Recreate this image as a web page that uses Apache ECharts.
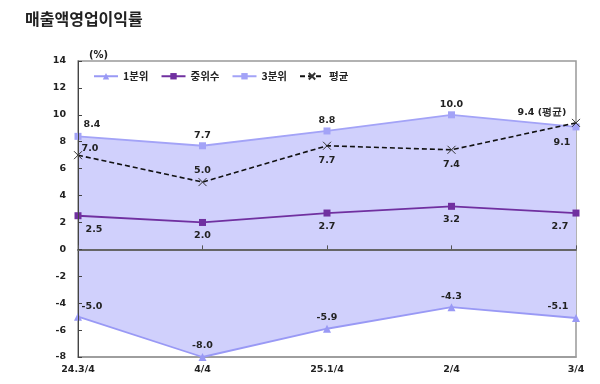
<!DOCTYPE html>
<html><head><meta charset="utf-8">
<script src="https://cdn.jsdelivr.net/npm/echarts@6/dist/echarts.min.js"></script>
<style>html,body{margin:0;padding:0;background:#fff}#c{width:600px;height:384px}</style>
</head><body><div id="c"></div>
<script>
var categories = ['24.3/4','4/4','25.1/4','2/4','3/4'];
var q1 = [-5.0,-8.0,-5.9,-4.3,-5.1];
var median = [2.5,2.0,2.7,3.2,2.7];
var q3 = [8.4,7.7,8.8,10.0,9.1];
var mean = [7.0,5.0,7.7,7.4,9.4];

// label placement: [position, dx, dy]
var q1Pos = [['top',14,4],['top',0,3],['top',0,3],['top',0,3],['top',-18,3]];
var medPos = [['bottom',16,0],['bottom',0,0],['bottom',0,0],['bottom',0,0],['bottom',-16,0]];
var q3Pos = [['top',14,2],['top',0,3],['top',0,3],['top',0,3],['bottom',-14,2]];
var meanPos = [['top',12,8],['top',0,3],['bottom',0,0],['bottom',0,0],['top',-34,4]];

function fmt1(p){ return p.value.toFixed(1); }
function mk(vals, pos){
  return vals.map(function(v,i){
    return {value:v, label:{position:pos[i][0], offset:[pos[i][1],pos[i][2]]}};
  });
}
var lblBase = {show:true, fontSize:9.5, fontWeight:'bold', color:'#222', fontFamily:'DejaVu Sans', formatter:fmt1};

var chart = echarts.init(document.getElementById('c'));
chart.setOption({
  animation:false,
  title:[{text:'매출액영업이익률', left:20, top:6, textStyle:{fontSize:16, fontWeight:'bold', color:'#222', fontFamily:'Noto Sans CJK KR'}},
         {text:'(%)', left:84, top:45, textStyle:{fontSize:10, fontWeight:'bold', color:'#222', fontFamily:'DejaVu Sans'}}],
  grid:{left:78, right:24, top:61, bottom:27, show:true, borderColor:'#999', borderWidth:1.5, backgroundColor:'transparent'},
  legend:{left:88, top:66, itemWidth:24, itemHeight:8, itemGap:12,
    textStyle:{fontSize:10.5, fontWeight:'bold', color:'#222', fontFamily:'Noto Sans CJK KR'},
    data:['1분위','중위수','3분위','평균']},
  xAxis:[{type:'category', data:categories, boundaryGap:false,
    axisLine:{onZero:false, lineStyle:{color:'#999', width:1.5}}, axisTick:{show:false},
    axisLabel:{fontSize:9.5, fontWeight:'bold', color:'#222', fontFamily:'DejaVu Sans', margin:8}},
    {type:'category', data:categories, boundaryGap:false, position:'bottom', z:10,
    axisLine:{onZero:true, lineStyle:{color:'#666', width:2}}, axisTick:{show:true, inside:true, length:4, lineStyle:{color:'#555'}},
    axisLabel:{show:false}}],
  yAxis:{type:'value', min:-8, max:14, interval:2, z:10,
    axisLine:{show:true, lineStyle:{color:'#444'}}, axisTick:{show:true, inside:true, length:4, lineStyle:{color:'#444'}},
    splitLine:{show:false},
    axisLabel:{fontSize:9.5, fontWeight:'bold', color:'#222', fontFamily:'DejaVu Sans', margin:12}},
  series:[
    {name:'1분위', type:'line', data:mk(q1,q1Pos), symbol:'triangle', symbolSize:8,
     itemStyle:{color:'#9999f5'}, lineStyle:{color:'#9999f5', width:1.8},
     areaStyle:{color:'#d0d0fc', opacity:1, origin:0}, label:lblBase, z:2},
    {name:'3분위', type:'line', data:mk(q3,q3Pos), symbol:'rect', symbolSize:7,
     itemStyle:{color:'#a3a3f7'}, lineStyle:{color:'#a3a3f7', width:1.8},
     areaStyle:{color:'#d0d0fc', opacity:1, origin:0}, label:lblBase, z:2},
    {name:'중위수', type:'line', data:mk(median,medPos), symbol:'rect', symbolSize:7,
     itemStyle:{color:'#7030a0'}, lineStyle:{color:'#7030a0', width:1.8}, label:lblBase, z:3},
    {name:'평균', type:'line', data:mk(mean,meanPos), symbol:'path://M0,0L10,10M10,0L0,10', symbolSize:8,
     itemStyle:{color:'#333', borderColor:'#333', borderWidth:1}, lineStyle:{color:'#111', width:1.6, type:[5,3]},
     label:Object.assign({}, lblBase, {formatter:function(p){return p.dataIndex===4? p.value.toFixed(1)+' (평균)' : p.value.toFixed(1);}}), z:4}
  ]
});
</script></body></html>
